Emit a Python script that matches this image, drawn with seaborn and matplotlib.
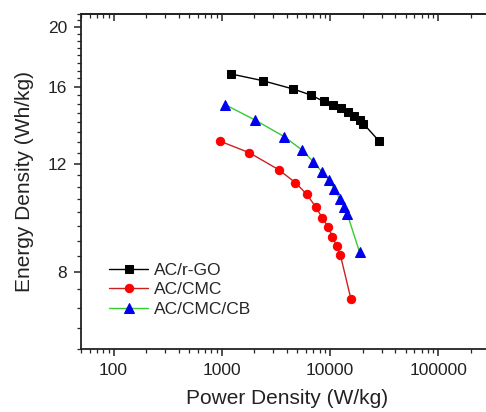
import numpy as np
import pandas as pd
import matplotlib
matplotlib.use("Agg")
import matplotlib.pyplot as plt
import matplotlib.ticker as mticker
import seaborn as sns

# values (W/kg, Wh/kg)
rgo_power = [1216, 2377, 4580, 6657, 8756, 10660, 12540, 14620, 16600, 18720, 20360, 28310]
rgo_energy = [16.78, 16.37, 15.86, 15.51, 15.14, 14.93, 14.76, 14.53, 14.33, 14.12, 13.93, 13.06]

cmc_power = [953, 1795, 3355, 4775, 6066, 7335, 8495, 9640, 10490, 11510, 12420, 15590]
cmc_energy = [13.06, 12.50, 11.73, 11.18, 10.71, 10.22, 9.79, 9.46, 9.13, 8.82, 8.54, 7.23]

cb_power = [1067, 2037, 3784, 5535, 6983, 8450, 9800, 10950, 12270, 13360, 14420, 18720]
cb_energy = [14.97, 14.12, 13.27, 12.62, 12.09, 11.63, 11.29, 10.91, 10.53, 10.21, 9.94, 8.62]

labels = ["AC/r-GO", "AC/CMC", "AC/CMC/CB"]
y_major = [8, 12, 16, 20]

sns.set_theme(style="ticks")
plt.rcParams["font.family"] = ["Liberation Sans", "DejaVu Sans"]

fig = plt.figure(figsize=(4.86, 4.12), dpi=100)
# axes run past the right edge, as in the cropped original
ax = fig.add_axes([81 / 486, 63 / 412, 412 / 486, 335 / 412])

df_rgo = pd.DataFrame({"P": rgo_power, "E": rgo_energy})
df_cmc = pd.DataFrame({"P": cmc_power, "E": cmc_energy})
df_cb = pd.DataFrame({"P": cb_power, "E": cb_energy})

sns.lineplot(data=df_rgo, x="P", y="E", ax=ax, sort=False, color="black", lw=1,
             marker="s", markersize=5.5, markerfacecolor="black", markeredgecolor="black",
             label=labels[0])
sns.lineplot(data=df_cmc, x="P", y="E", ax=ax, sort=False, color="#cc2020", lw=1,
             marker="o", markersize=6, markerfacecolor="red", markeredgecolor="red",
             label=labels[1])
sns.lineplot(data=df_cb, x="P", y="E", ax=ax, sort=False, color="#33cc33", lw=1,
             marker="^", markersize=6.5, markerfacecolor="#0000ee", markeredgecolor="#0000ee",
             label=labels[2])

ax.set_xscale("log")
ax.set_yscale("log")
ax.set_xlim(50, 320000)
ax.set_ylim(6, 21)

ax.xaxis.set_major_locator(mticker.FixedLocator([100, 1000, 10000, 100000]))
ax.xaxis.set_major_formatter(mticker.FixedFormatter(["100", "1000", "10000", "100000"]))
ax.xaxis.set_minor_locator(mticker.LogLocator(base=10, subs=np.arange(2, 10), numticks=20))
ax.xaxis.set_minor_formatter(mticker.NullFormatter())

ax.yaxis.set_major_locator(mticker.FixedLocator(y_major))
ax.yaxis.set_major_formatter(mticker.FixedFormatter([str(v) for v in y_major]))
ax.yaxis.set_minor_locator(mticker.FixedLocator(np.arange(6, 21.01, 0.5)))
ax.yaxis.set_minor_formatter(mticker.NullFormatter())

for s in ax.spines.values():
    s.set_linewidth(1.3)
    s.set_color("#222222")
ax.tick_params(which="major", length=5, width=1.1, direction="out", labelsize=12.5,
               colors="#222222", pad=5)
ax.tick_params(which="minor", length=3, width=0.9, direction="out")

# origin-style inward ticks on top
top = ax.secondary_xaxis("top")
top.set_xscale("log")
top.xaxis.set_major_locator(mticker.FixedLocator([100, 1000, 10000, 100000]))
top.xaxis.set_minor_locator(mticker.LogLocator(base=10, subs=np.arange(2, 10), numticks=20))
top.xaxis.set_major_formatter(mticker.NullFormatter())
top.xaxis.set_minor_formatter(mticker.NullFormatter())
top.tick_params(which="major", direction="in", length=5, width=1.1)
top.tick_params(which="minor", direction="in", length=3, width=0.9)

ax.set_xlabel("Power Density (W/kg)", fontsize=15, labelpad=8, color="#222222")
ax.set_ylabel("Energy Density (Wh/kg)", fontsize=15, labelpad=10, color="#222222")

ax.legend(loc="lower left", bbox_to_anchor=(0.05, 0.075), frameon=False, fontsize=12.5,
          handlelength=2.3, handletextpad=0.3, labelspacing=0.25, borderaxespad=0)

fig.savefig("out.png", dpi=100)
